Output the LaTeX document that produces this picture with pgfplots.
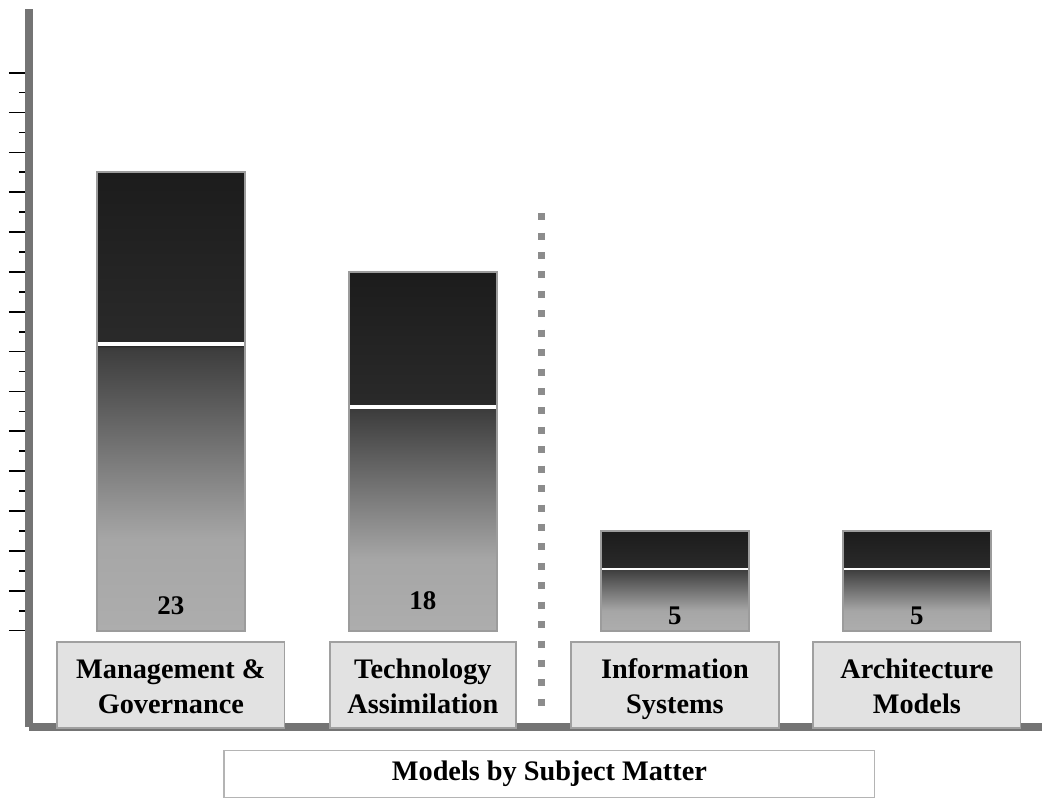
\documentclass[border=0pt]{standalone}
\usepackage{pgfplots}
\pgfplotsset{compat=1.18}
\usepackage{pgfplotstable}
\usepackage{fontspec}
\setmainfont{Liberation Serif}

\definecolor{axisgray}{HTML}{747474}
\definecolor{barborder}{HTML}{9C9C9C}
\definecolor{barlight}{HTML}{ADADAD}
\definecolor{barlightB}{HTML}{A6A6A6}
\definecolor{barmid}{HTML}{3C3C3C}
\definecolor{bartopA}{HTML}{2A2A2A}
\definecolor{bartopB}{HTML}{1C1C1C}
\definecolor{boxfill}{HTML}{E2E2E2}
\definecolor{boxline}{HTML}{A0A0A0}
\definecolor{dotgray}{HTML}{8C8C8C}
\definecolor{titleline}{HTML}{B4B4B4}

% bar body: light at the base, dark at 62% of the height, near black above
\pgfdeclareverticalshading{barshade}{100bp}{%
  color(0bp)=(barlight); color(25bp)=(barlight); color(35bp)=(barlightB);
  color(55.9bp)=(barmid); color(56bp)=(bartopA); color(75bp)=(bartopB);
  color(100bp)=(bartopB)}

\setlength{\fboxsep}{0pt}
\setlength{\fboxrule}{0.75pt}
\newcommand{\catbox}[2]{\fcolorbox{boxline}{boxfill}{\parbox[c][42.5pt][t]{#1}{\vspace*{6pt}\centering\fontsize{14.2}{17.5}\selectfont\bfseries\strut #2\strut}}}

% x: position, v: number of models, split: white band, ly: label height
\pgfplotstableread{
x    v   split  ly
0    23  14.4   1.25
1    18  11.2   1.5
2    5   3.1    0.75
2.96 5   3.1    0.75
}\modeldata

\pgfplotsset{
  modelbar/.style={ybar, bar width=74pt, bar shift=0pt, draw=barborder,
    line width=1pt, shade, shading=barshade},
}

\begin{document}
\begin{tikzpicture}
\begin{axis}[
  x=126.5pt, y=10pt,
  xmin=-0.5632, xmax=3.4565, ymin=-4.85, ymax=31.2,
  axis lines*=left,
  axis line style={line width=4pt, axisgray},
  clip=false,
  xtick={0,1,2,2.96},
  xticklabels={
    {\catbox{113.5pt}{Management \&\\Governance}},
    {\catbox{92.5pt}{Technology\\Assimilation}},
    {\catbox{103.5pt}{Information\\Systems}},
    {\catbox{103.5pt}{Architecture\\Models}}},
  xtick style={draw=none},
  xticklabel style={anchor=south, inner sep=0pt, yshift=9pt},
  ytick={0,2,...,28},
  minor ytick={1,3,...,27},
  yticklabels={},
  yticklabel style={inner sep=0pt, outer sep=0pt},
  tick align=outside,
  major tick length=10pt,
  minor tick length=5pt,
  ytick style={line width=0.85pt, black},
  minor tick style={line width=0.85pt, black},
  xlabel={Models by Subject Matter},
  xlabel style={at={(axis description cs:0.5138,-0.0650)}, anchor=center,
    draw=titleline, line width=0.75pt, fill=white,
    minimum width=326.5pt, minimum height=23.5pt, inner sep=0pt,
    font=\fontsize{14.2}{17}\selectfont\bfseries},
  /pgf/number format/assume math mode=true,
]
% canvas extent
\path (axis cs:-0.6779,-8.3) rectangle (axis cs:3.4565,31.65);

% separator between the two groups
\draw[dotgray, line width=3.5pt, dash pattern=on 3.5pt off 6.25pt]
  (axis cs:1.4723,20.95) -- (axis cs:1.4723,-3.775);

% bars, one path each so that every bar carries its own shading
\addplot[modelbar, restrict x to domain=-0.5:0.5] table[x=x, y=v] {\modeldata};
\addplot[modelbar, restrict x to domain=0.5:1.5] table[x=x, y=v] {\modeldata};
\addplot[modelbar, restrict x to domain=1.5:2.5] table[x=x, y=v] {\modeldata};
\addplot[modelbar, restrict x to domain=2.5:3.5] table[x=x, y=v] {\modeldata};

% white bands
\addplot[only marks, mark=-, mark size=36.5pt,
  mark options={draw=white, line width=2pt},
  restrict x to domain=-0.5:1.5] table[x=x, y=split] {\modeldata};
\addplot[only marks, mark=-, mark size=36.5pt,
  mark options={draw=white, line width=1.25pt},
  restrict x to domain=1.5:3.5] table[x=x, y=split] {\modeldata};

% counts
\addplot[draw=none, nodes near coords, point meta=explicit,
  nodes near coords style={anchor=center, text=black,
    font=\fontsize{13.5}{16}\selectfont\bfseries}]
  table[x=x, y=ly, meta=v] {\modeldata};
\end{axis}
\end{tikzpicture}
\end{document}
